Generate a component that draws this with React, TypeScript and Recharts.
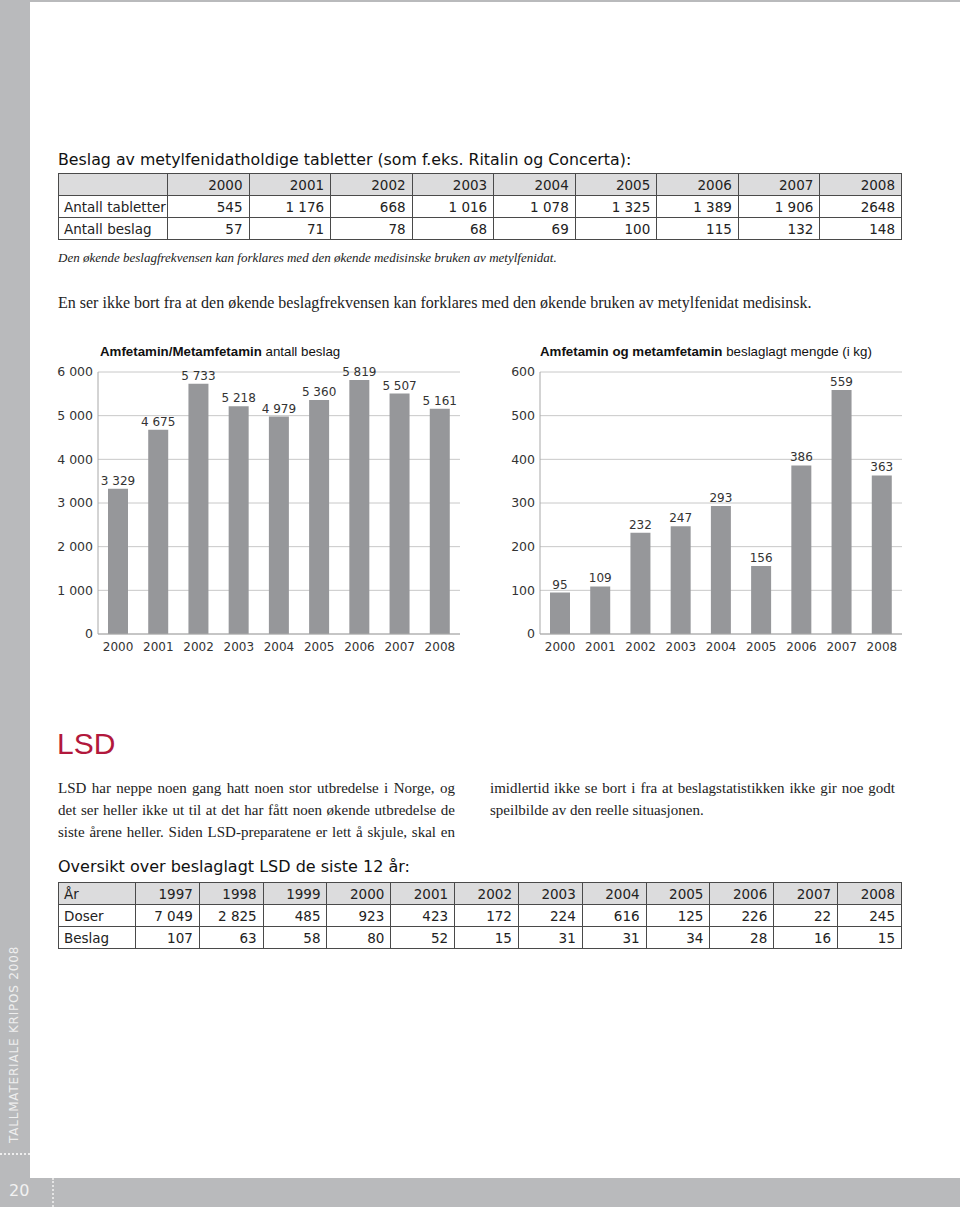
import { Bar, BarChart, CartesianGrid, LabelList, XAxis, YAxis } from 'recharts';

const YEARS = ['2000', '2001', '2002', '2003', '2004', '2005', '2006', '2007', '2008'];
const AMF_SEIZURES = [3329, 4675, 5733, 5218, 4979, 5360, 5819, 5507, 5161];
const AMF_KG = [95, 109, 232, 247, 293, 156, 386, 559, 363];
const COUNT_TICKS = [0, 1000, 2000, 3000, 4000, 5000, 6000];
const KG_TICKS = [0, 100, 200, 300, 400, 500, 600];

const TABLET_YEARS = ['2000', '2001', '2002', '2003', '2004', '2005', '2006', '2007', '2008'];
const TABLET_COUNT = ['545', '1 176', '668', '1 016', '1 078', '1 325', '1 389', '1 906', '2648'];
const TABLET_SEIZURES = ['57', '71', '78', '68', '69', '100', '115', '132', '148'];

const LSD_YEARS = ['1997', '1998', '1999', '2000', '2001', '2002', '2003', '2004', '2005', '2006', '2007', '2008'];
const LSD_DOSES = ['7 049', '2 825', '485', '923', '423', '172', '224', '616', '125', '226', '22', '245'];
const LSD_SEIZURES = ['107', '63', '58', '80', '52', '15', '31', '31', '34', '28', '16', '15'];

const SANS = '"DejaVu Sans", "Liberation Sans", sans-serif';
const ARIAL = '"Liberation Sans", Arial, sans-serif';
const SERIF = '"Liberation Serif", "Times New Roman", serif';
const BAR = '#96979a';
const GRID = '#c8c8c8';
const SIDE = '#b9babc';

const fmt = (v: number) => String(v).replace(/\B(?=(\d{3})+(?!\d))/g, ' ');

// plain svg label so the thousands space doesn't wrap
const BarValue = (props: any) => {
  const { x, y, width, value } = props;
  return (
    <text x={x + width / 2} y={y - 4} textAnchor="middle" fill="#333" fontSize={12} fontFamily={SANS}>
      {fmt(value)}
    </text>
  );
};

function DataTable({
  top,
  firstWidth,
  header,
  rows,
}: {
  top: number;
  firstWidth: number;
  header: string[];
  rows: { label: string; values: string[] }[];
}) {
  const cell = {
    border: '1px solid #4a4a4a',
    padding: '0 6px 0 5px',
    height: 21,
    fontSize: 13.5,
    color: '#222',
    whiteSpace: 'nowrap' as const,
    overflow: 'hidden',
  };
  return (
    <table
      style={{
        position: 'absolute',
        left: 58,
        top,
        width: 844,
        borderCollapse: 'collapse',
        tableLayout: 'fixed',
        fontFamily: SANS,
      }}
    >
      <colgroup>
        <col style={{ width: firstWidth }} />
        {header.slice(1).map((h) => (
          <col key={h} />
        ))}
      </colgroup>
      <tbody>
        <tr style={{ background: '#dcdcdd' }}>
          {header.map((h, i) => (
            <td key={h + i} style={{ ...cell, textAlign: i === 0 ? 'left' : 'right' }}>
              {h}
            </td>
          ))}
        </tr>
        {rows.map((r) => (
          <tr key={r.label}>
            <td style={{ ...cell, textAlign: 'left' }}>{r.label}</td>
            {r.values.map((v, i) => (
              <td key={i} style={{ ...cell, textAlign: 'right' }}>
                {v}
              </td>
            ))}
          </tr>
        ))}
      </tbody>
    </table>
  );
}

function SeizureChart({
  left,
  values,
  ticks,
  max,
}: {
  left: number;
  values: number[];
  ticks: number[];
  max: number;
}) {
  const data = YEARS.map((year, i) => ({ year, value: values[i] }));
  return (
    <div style={{ position: 'absolute', left, top: 360 }}>
      <BarChart width={420} height={300} data={data} margin={{ top: 12, right: 10, left: 0, bottom: 4 }} barSize={20}>
        <CartesianGrid vertical={false} stroke={GRID} />
        <XAxis
          dataKey="year"
          axisLine={{ stroke: '#a8a8a8' }}
          tickLine={false}
          height={22}
          tick={{ fill: '#333', fontSize: 12, fontFamily: SANS }}
          interval={0}
        />
        <YAxis
          domain={[0, max]}
          ticks={ticks}
          tickFormatter={fmt}
          axisLine={{ stroke: '#a8a8a8' }}
          tickLine={false}
          tickSize={3}
          width={48}
          interval={0}
          tick={{ fill: '#333', fontSize: 12.5, fontFamily: SANS }}
        />
        <Bar dataKey="value" fill={BAR} isAnimationActive={false}>
          <LabelList dataKey="value" content={<BarValue />} />
        </Bar>
      </BarChart>
    </div>
  );
}

export default function App() {
  const abs = (left: number, top: number) => ({ position: 'absolute' as const, left, top, whiteSpace: 'nowrap' as const });
  const lineL = { width: 397, whiteSpace: 'nowrap' as const, textAlign: 'justify' as const, textAlignLast: 'justify' as const };
  return (
    <div style={{ position: 'absolute', left: 0, top: 0, width: 960, height: 1207, background: SIDE, overflow: 'hidden', fontFamily: SANS }}>
      <div style={{ position: 'absolute', left: 30, top: 2, width: 930, height: 1176, background: '#fff' }} />

      {/* side strip */}
      <div
        style={{
          position: 'absolute',
          left: 8,
          top: 1143,
          transform: 'rotate(-90deg)',
          transformOrigin: '0 0',
          color: '#eeeeee',
          fontSize: 12,
          letterSpacing: 0.8,
          whiteSpace: 'nowrap',
          lineHeight: '12px',
        }}
      >
        TALLMATERIALE KRIPOS 2008
      </div>
      <div style={{ position: 'absolute', left: 0, top: 1153, width: 30, borderTop: '2px dotted #eeeeee' }} />
      <div style={{ position: 'absolute', left: 52, top: 1178, height: 29, borderLeft: '2px dotted #e4e4e4' }} />
      <div style={{ ...abs(9, 1181), color: '#f2f2f2', fontSize: 16 }}>20</div>

      <div style={{ ...abs(58, 150), fontSize: 15.8, color: '#111' }}>
        Beslag av metylfenidatholdige tabletter (som f.eks. Ritalin og Concerta):
      </div>
      <DataTable
        top={173}
        firstWidth={109}
        header={['', ...TABLET_YEARS]}
        rows={[
          { label: 'Antall tabletter', values: TABLET_COUNT },
          { label: 'Antall beslag', values: TABLET_SEIZURES },
        ]}
      />
      <div style={{ ...abs(58, 250), fontFamily: SERIF, fontStyle: 'italic', fontSize: 13, color: '#222' }}>
        Den økende beslagfrekvensen kan forklares med den økende medisinske bruken av metylfenidat.
      </div>
      <div style={{ ...abs(58, 294), fontFamily: SERIF, fontSize: 16, color: '#222' }}>
        En ser ikke bort fra at den økende beslagfrekvensen kan forklares med den økende bruken av metylfenidat medisinsk.
      </div>

      <div style={{ ...abs(100, 344), fontSize: 13.3, color: '#111', fontFamily: ARIAL }}>
        <b>Amfetamin/Metamfetamin</b> antall beslag
      </div>
      <div style={{ ...abs(540, 344), fontSize: 13.3, color: '#111', fontFamily: ARIAL }}>
        <b>Amfetamin og metamfetamin</b> beslaglagt mengde (i kg)
      </div>
      <SeizureChart left={50} values={AMF_SEIZURES} ticks={COUNT_TICKS} max={6000} />
      <SeizureChart left={492} values={AMF_KG} ticks={KG_TICKS} max={600} />

      <div style={{ ...abs(57, 727), fontSize: 30, color: '#b2183c', fontFamily: ARIAL }}>LSD</div>
      <div style={{ position: 'absolute', left: 58, top: 777, fontFamily: SERIF, fontSize: 15, lineHeight: '22px', color: '#222' }}>
        <div style={lineL}>LSD har neppe noen gang hatt noen stor utbredelse i Norge, og</div>
        <div style={lineL}>det ser heller ikke ut til at det har fått noen økende utbredelse de</div>
        <div style={lineL}>siste årene heller. Siden LSD-preparatene er lett å skjule, skal en</div>
      </div>
      <div style={{ position: 'absolute', left: 490, top: 777, fontFamily: SERIF, fontSize: 15, lineHeight: '22px', color: '#222' }}>
        <div style={{ ...lineL, width: 405 }}>imidlertid ikke se bort i fra at beslagstatistikken ikke gir noe godt</div>
        <div style={{ whiteSpace: 'nowrap' }}>speilbilde av den reelle situasjonen.</div>
      </div>

      <div style={{ ...abs(58, 857), fontSize: 16, color: '#111' }}>Oversikt over beslaglagt LSD de siste 12 år:</div>
      <DataTable
        top={882}
        firstWidth={77}
        header={['År', ...LSD_YEARS]}
        rows={[
          { label: 'Doser', values: LSD_DOSES },
          { label: 'Beslag', values: LSD_SEIZURES },
        ]}
      />
    </div>
  );
}
